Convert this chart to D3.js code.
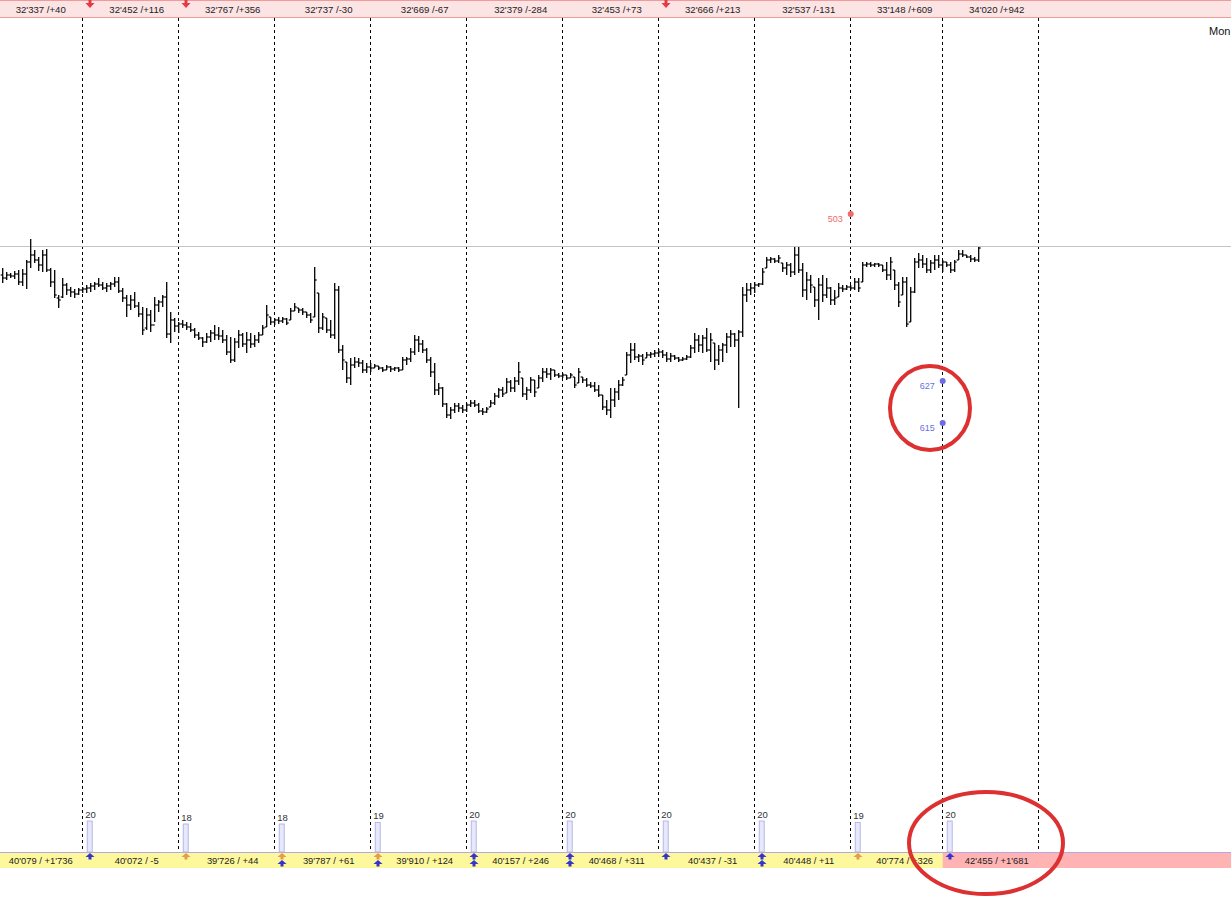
<!DOCTYPE html>
<html>
<head>
<meta charset="utf-8">
<script src="https://cdn.jsdelivr.net/npm/d3@7"></script>
<style>
  html, body { margin: 0; padding: 0; background: #fff; overflow: hidden; }
  svg { display: block; font-family: "Liberation Sans", Arial, sans-serif; }
</style>
</head>
<body>
<div id="chart"></div>
<script>
// OHLC bars, one per slot (price points)
const highs = [732,728,727,729,730,731,740,761,750,743,750,751,732,730,705,722,717,713,711,712,
  713,715,717,718,722,718,717,718,723,723,712,705,705,708,698,693,692,690,703,700,
  705,718,688,682,678,680,678,677,672,668,663,667,670,675,673,670,665,663,662,670,
  667,668,667,665,668,675,695,683,682,683,683,682,692,697,692,692,688,687,733,707,
  687,682,680,717,714,655,638,642,643,642,640,637,637,636,634,633,635,634,633,633,
  643,643,652,665,664,660,652,643,637,617,613,597,593,597,597,595,597,600,600,597,
  592,593,600,607,612,613,622,620,623,638,622,613,623,620,625,632,632,632,630,627,
  627,625,627,623,632,623,622,618,618,615,605,600,612,612,620,623,648,657,657,646,
  646,648,648,650,651,650,648,647,645,643,643,645,655,667,665,665,672,667,657,655,
  657,667,670,667,670,713,717,717,718,717,732,743,743,742,745,737,738,737,753,753,
  737,728,725,713,722,725,722,713,710,717,715,715,715,722,722,738,738,738,737,737,
  735,738,743,730,718,723,723,713,742,747,745,742,740,745,745,740,738,738,740,750,
  750,745,745,743,753];
const lows = [717,720,722,721,715,714,711,732,737,729,728,728,713,702,692,702,705,703,702,705,
  707,707,708,710,713,710,708,710,713,707,698,683,690,692,683,665,670,668,678,688,
  693,662,657,668,667,672,670,668,662,660,653,657,658,660,660,657,645,637,638,652,
  653,647,652,653,657,665,673,675,675,676,677,675,680,689,687,685,682,677,683,667,
  670,667,662,661,647,630,617,615,632,633,627,627,628,632,630,628,630,628,629,628,
  630,635,638,645,648,647,637,623,605,605,593,582,581,587,588,587,588,593,593,587,
  585,587,593,595,602,603,607,608,608,615,603,600,607,603,612,618,622,620,623,622,
  622,620,622,612,617,617,613,612,608,603,590,585,582,593,600,614,625,637,640,638,
  635,642,642,643,643,642,638,638,640,638,639,640,642,647,648,647,648,638,630,635,
  638,647,653,653,592,663,698,705,707,713,715,732,737,737,737,728,725,723,725,727,
  703,700,707,693,680,698,702,695,695,703,708,710,710,710,708,718,733,733,733,733,
  728,720,720,710,693,705,673,678,707,732,732,727,727,730,732,728,733,727,728,740,
  743,742,738,738,738];
const opens = [725,722,725,724,726,718,726,738,745,740,735,745,730,718,702,703,715,710,708,706,
  710,711,712,714,716,715,712,714,716,718,709,702,695,700,694,686,672,685,675,695,
  698,703,666,680,674,676,675,673,670,665,662,658,663,667,665,664,660,648,640,658,
  665,656,660,656,660,665,673,683,678,680,679,681,680,689,692,690,688,685,683,707,
  672,682,670,665,710,650,638,622,635,638,637,630,633,632,634,632,630,633,631,632,
  630,640,641,648,660,656,650,640,628,610,612,596,585,590,594,592,590,595,597,595,
  589,588,593,597,604,610,607,618,612,619,622,606,610,620,612,622,628,626,630,625,
  624,625,622,623,617,623,620,615,614,610,605,593,590,600,608,615,625,645,650,643,
  644,642,645,646,647,648,645,641,644,642,640,641,643,652,660,655,662,650,657,640,
  650,655,663,666,660,668,705,710,712,715,716,732,740,741,739,737,732,735,728,745,
  730,710,720,713,700,715,705,712,700,703,712,711,713,712,718,718,735,736,735,736,
  735,730,725,730,715,705,718,678,708,738,740,736,730,737,740,735,738,735,730,740,
  746,745,743,741,740];
const closes = [722,725,724,726,718,726,738,745,740,735,745,730,718,705,700,715,710,708,706,710,
  711,712,714,716,715,712,714,716,718,709,702,695,700,694,686,670,685,675,695,698,
  703,666,680,674,676,675,673,670,665,662,658,663,667,665,664,660,648,640,658,665,
  656,660,656,660,665,672,685,678,680,679,681,677,689,693,690,688,685,680,720,672,
  683,670,665,710,650,640,622,635,638,637,630,633,632,634,632,630,633,631,632,630,
  640,641,648,660,656,650,640,628,610,612,596,585,590,594,592,590,595,597,595,589,
  588,591,597,604,610,606,618,612,619,628,606,610,620,608,622,628,626,630,625,624,
  625,622,625,615,628,620,615,614,610,605,593,590,600,608,615,620,645,650,643,644,
  640,645,646,647,648,645,641,644,642,640,641,643,652,660,655,662,650,660,640,650,
  655,663,666,660,668,705,710,712,715,716,728,740,741,739,742,732,735,728,745,730,
  710,720,715,700,715,705,712,700,702,712,711,713,712,718,712,735,736,735,736,735,
  730,725,738,715,698,718,676,708,738,740,736,730,737,740,735,738,735,730,738,746,
  745,743,741,740,752];

// session boundaries (slot index) and their texts
const sessionSlots = [-4, 20, 44, 68, 92, 116, 140, 164, 188, 212, 235];
const boundarySlots = [20, 44, 68, 92, 116, 140, 164, 188, 212, 235, 259];
const topLabels = ["32'337 /+40", "32'452 /+116", "32'767 /+356", "32'737 /-30", "32'669 /-67",
  "32'379 /-284", "32'453 /+73", "32'666 /+213", "32'537 /-131", "33'148 /+609", "34'020 /+942"];
const bottomLabels = ["40'079 / +1'736", "40'072 / -5", "39'726 / +44", "39'787 / +61", "39'910 / +124",
  "40'157 / +246", "40'468 / +311", "40'437 / -31", "40'448 / +11", "40'774 / +326", "42'455 / +1'681"];
const redArrowSlots = [20, 44, 164];
const counts = [20, 18, 18, 19, 20, 20, 20, 20, 19, 20];
// signal arrows per boundary: [upper, lower], b = blue, o = orange, "" = none
const signals = [["b", ""], ["o", ""], ["o", "b"], ["o", "b"], ["b", "b"], ["b", "b"],
  ["b", ""], ["b", "b"], ["o", ""], ["b", ""]];
const refLevel = 754;
const markers = [
  { slot: 212, value: 786, label: "503", color: "#f06a6a" },
  { slot: 235, value: 619, label: "627", color: "#6d6de8" },
  { slot: 235, value: 577, label: "615", color: "#6d6de8" }
];

const width = 1231, height = 898;
const x = d3.scaleLinear().domain([0, 307]).range([2.7, 1230.7]);
const y = d3.scaleLinear().domain([102, 1000]).range([898, 0]);

const svg = d3.select("#chart").append("svg")
  .attr("width", width)
  .attr("height", height);

const bars = d3.range(highs.length).map(i => ({
  i, high: highs[i], low: lows[i], open: opens[i], close: closes[i]
}));

// top band
svg.append("rect").attr("x", 0).attr("y", 0).attr("width", width).attr("height", 17)
  .attr("fill", "#fde4e4");
svg.append("line").attr("x1", 0).attr("x2", width).attr("y1", 17.5).attr("y2", 17.5)
  .attr("stroke", "#f29a9a").attr("stroke-width", 1);
svg.append("line").attr("x1", 0).attr("x2", width).attr("y1", 0.5).attr("y2", 0.5)
  .attr("stroke", "#f29a9a").attr("stroke-width", 1);

svg.selectAll(".toplab").data(topLabels).enter().append("text")
  .attr("x", (d, k) => x(sessionSlots[k]) + 54)
  .attr("y", 13)
  .attr("text-anchor", "middle")
  .attr("font-size", "9.6px")
  .attr("fill", "#222")
  .text(d => d);

// session separators
svg.selectAll(".sep").data(boundarySlots).enter().append("line")
  .attr("x1", d => Math.floor(x(d)) + 0.5)
  .attr("x2", d => Math.floor(x(d)) + 0.5)
  .attr("y1", 18).attr("y2", 852)
  .attr("stroke", "#000").attr("stroke-width", 1)
  .attr("stroke-dasharray", "3,3");

// red down arrows on the top band
svg.selectAll(".downarrow").data(redArrowSlots).enter().append("path")
  .attr("transform", d => `translate(${x(d) + 7.3},0)`)
  .attr("d", "M-1.5,0 L1.5,0 L1.5,3 L4.5,3 L0,8 L-4.5,3 L-1.5,3 Z")
  .attr("fill", "#e23a46");

// reference level
svg.append("line").attr("x1", 0).attr("x2", width)
  .attr("y1", Math.round(y(refLevel)) + 0.5).attr("y2", Math.round(y(refLevel)) + 0.5)
  .attr("stroke", "#c4c4c4").attr("stroke-width", 1);

svg.append("text").attr("x", 1209).attr("y", 35).attr("font-size", "11px")
  .attr("fill", "#111").text("Mon");

// OHLC bars
const g = svg.append("g").attr("stroke", "#000").attr("stroke-width", 1.3);
g.selectAll(".hl").data(bars).enter().append("line")
  .attr("x1", d => x(d.i)).attr("x2", d => x(d.i))
  .attr("y1", d => y(d.high)).attr("y2", d => y(d.low));
g.selectAll(".op").data(bars).enter().append("line")
  .attr("x1", d => x(d.i) - 2).attr("x2", d => x(d.i))
  .attr("y1", d => y(d.open)).attr("y2", d => y(d.open))
  .attr("stroke-width", 1.2);
g.selectAll(".cl").data(bars).enter().append("line")
  .attr("x1", d => x(d.i)).attr("x2", d => x(d.i) + 2)
  .attr("y1", d => y(d.close)).attr("y2", d => y(d.close))
  .attr("stroke-width", 1.2);

// markers
markers.forEach(m => {
  svg.append("circle").attr("cx", x(m.slot)).attr("cy", y(m.value)).attr("r", 3)
    .attr("fill", m.color);
  svg.append("text").attr("x", x(m.slot) - 8).attr("y", y(m.value) + 8)
    .attr("text-anchor", "end").attr("font-size", "9px").attr("fill", m.color)
    .text(m.label);
});

// counts above the bottom band
counts.forEach((c, k) => {
  const bx = x(boundarySlots[k]);
  const top = 851 - c * 1.5;
  svg.append("rect").attr("x", bx + 4.5).attr("y", top).attr("width", 5).attr("height", 852 - top)
    .attr("fill", "#e8e8fb").attr("stroke", "#a9a9e6").attr("stroke-width", 0.8);
  svg.append("text").attr("x", bx + 2.5).attr("y", top - 3.5)
    .attr("font-size", "9.5px").attr("fill", "#333").text(c);
});

// bottom band
svg.append("rect").attr("x", 0).attr("y", 853).attr("width", width).attr("height", 15)
  .attr("fill", "#fdf89b");
svg.append("rect").attr("x", x(235)).attr("y", 853).attr("width", width - x(235)).attr("height", 15)
  .attr("fill", "#ffb3b3");
svg.append("line").attr("x1", 0).attr("x2", width).attr("y1", 852.5).attr("y2", 852.5)
  .attr("stroke", "#b6a6e6").attr("stroke-width", 1);

svg.selectAll(".botlab").data(bottomLabels).enter().append("text")
  .attr("x", (d, k) => x(sessionSlots[k]) + 54)
  .attr("y", 864)
  .attr("text-anchor", "middle")
  .attr("font-size", "9.4px")
  .attr("fill", "#222")
  .text(d => d);

const upArrow = "M0,0 L4.5,4 L1.5,4 L1.5,6.5 L-1.5,6.5 L-1.5,4 L-4.5,4 Z";
signals.forEach((s, k) => {
  const ax = x(boundarySlots[k]) + 7.3;
  s.forEach((c, j) => {
    if (!c) return;
    svg.append("path")
      .attr("transform", `translate(${ax},${853 + j * 7})`)
      .attr("d", upArrow)
      .attr("fill", c === "b" ? "#3434cc" : "#e39a4c");
  });
});

// hand-drawn annotations
svg.append("ellipse").attr("cx", 930).attr("cy", 408).attr("rx", 40).attr("ry", 42)
  .attr("fill", "none").attr("stroke", "#dd3030").attr("stroke-width", 4);
svg.append("ellipse").attr("cx", 986).attr("cy", 843).attr("rx", 77).attr("ry", 51)
  .attr("fill", "none").attr("stroke", "#dd3030").attr("stroke-width", 4);
</script>
</body>
</html>
